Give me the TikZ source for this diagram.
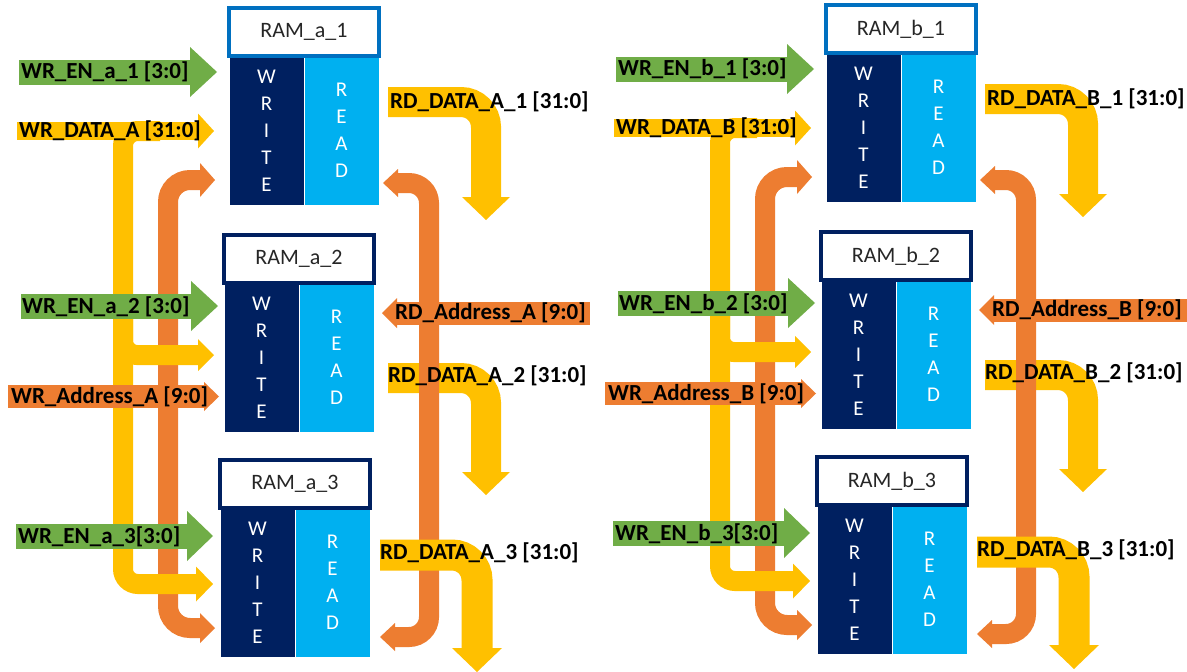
\documentclass[tikz,border=0pt]{standalone}
\usepackage{fontspec}
\setmainfont{Carlito}
\usetikzlibrary{calc}

\definecolor{grn}{HTML}{70AD47}
\definecolor{ylw}{HTML}{FFC000}
\definecolor{org}{HTML}{ED7D31}
\definecolor{navy}{HTML}{002060}
\definecolor{sky}{HTML}{00B0F0}
\definecolor{midblue}{HTML}{0070C0}

% block-arrow heads: colour, tip point, length, half width
\newcommand\bhR[4]{\fill[#1] ($(#2)+(-#3,-#4)$) -- (#2) -- ($(#2)+(-#3,#4)$) -- cycle;}
\newcommand\bhL[4]{\fill[#1] ($(#2)+(#3,-#4)$) -- (#2) -- ($(#2)+(#3,#4)$) -- cycle;}
\newcommand\bhD[4]{\fill[#1] ($(#2)+(-#4,-#3)$) -- (#2) -- ($(#2)+(#4,-#3)$) -- cycle;}

% one RAM block: name, left x, top y, title, title border colour
\newcommand\rambox[5]{%
  \node[wcol, anchor=north west] (#1w) at (#2,#3+48) {W\\R\\I\\T\\E};
  \node[rcol, anchor=north west] (#1r) at (#2+75,#3+48) {R\\E\\A\\D};
  \node[titlebox, draw=#5, anchor=north west] (#1t) at (#2,#3) {#4};
}

% one memory bank: lower-case letter, upper-case letter
\newcommand\rambank[2]{%
  % write address distribution
  \draw[org, band, rounded corners=22pt] (201,180) -- (168,180) -- (168,628) -- (201,628);
  \bhR{org}{215,180}{15}{17}
  \bhR{org}{215,628}{15}{15}
  % write data distribution
  \draw[ylw, band, rounded corners=15pt] (160,131) -- (123,131) -- (123,584) -- (197,584);
  \bhR{ylw}{213,584}{17}{17.5}
  \draw[ylw, band, rounded corners=14pt] (123,300) -- (123,355) -- (199,355);
  \bhR{ylw}{214,355}{16}{16}
  % write address input
  \fill[org] (8,385) rectangle (205.5,408);
  \bhR{org}{219,396.5}{15}{14.5}
  % write data input
  \fill[ylw] (17,122) rectangle (199,140);
  \bhR{ylw}{214,131}{16}{17.5}
  % write enables
  \fill[grn] (19,59.5) rectangle (191,84.5);
  \bhR{grn}{217,72}{27}{25}
  \fill[grn] (21,294) rectangle (192,319);
  \bhR{grn}{218,306}{27}{25}
  \fill[grn] (16,524) rectangle (188,549);
  \bhR{grn}{213,536}{26}{25}
  % read data outputs 1 and 2
  \draw[ylw, line width=30pt, rounded corners=25pt] (388,102) -- (486,102) -- (486,198);
  \bhD{ylw}{486,220}{23}{24}
  \draw[ylw, line width=30pt, rounded corners=25pt] (388,378) -- (486,378) -- (486,473);
  \bhD{ylw}{486,495}{23}{24}
  % read address distribution
  \draw[org, band, rounded corners=20pt] (397,183) -- (429,183) -- (429,637) -- (394,637);
  \bhL{org}{383,183}{15}{14}
  \bhL{org}{380,637}{15}{14}
  \fill[org] (396.5,301.5) rectangle (590,324.5);
  \bhL{org}{382,313}{15}{15}
  % read data output 3
  \draw[ylw, line width=31pt, rounded corners=25pt] (380,555) -- (477,555) -- (477,649);
  \bhD{ylw}{477,672}{24}{25}
  % RAM blocks
  \rambox{#1ram1}{229}{8}{RAM\_#1\_1}{midblue}
  \rambox{#1ram2}{224}{235}{RAM\_#1\_2}{navy}
  \rambox{#1ram3}{220}{460}{RAM\_#1\_3}{navy}
  % signal names
  \node[lbl] (#1en1) at (21,72) {WR\_EN\_#1\_1 [3:0]};
  \node[lbl] (#1wd) at (19,131) {WR\_DATA\_#2 [31:0]};
  \node[lbl] (#1en2) at (22,307) {WR\_EN\_#1\_2 [3:0]};
  \node[lbl] (#1wa) at (11,396.5) {WR\_Address\_#2 [9:0]};
  \node[lbl] (#1en3) at (18,536.5) {WR\_EN\_#1\_3[3:0]};
  \node[lbl] (#1rd1) at (390,102) {RD\_DATA\_#2\_1 [31:0]};
  \node[lbl] (#1ra) at (395,313) {RD\_Address\_#2 [9:0]};
  \node[lbl] (#1rd2) at (388,376) {RD\_DATA\_#2\_2 [31:0]};
  \node[lbl] (#1rd3) at (380,553) {RD\_DATA\_#2\_3 [31:0]};
}

\tikzset{
  band/.style={line width=20pt},
  wcol/.style={fill=navy, draw=white, line width=0.6pt, text=white, inner sep=0pt, outer sep=0pt,
    minimum width=75pt, minimum height=149pt, align=center, font=\fontsize{21}{27}\selectfont},
  rcol/.style={wcol, fill=sky},
  titlebox/.style={fill=white, line width=3.5pt, inner sep=0pt, outer sep=0pt,
    minimum width=150pt, minimum height=48pt, text=black!85, font=\fontsize{22}{26}\selectfont},
  lbl/.style={anchor=west, inner sep=0pt, text=black, font=\fontsize{23}{27}\selectfont\bfseries},
}

\begin{document}
\begin{tikzpicture}[x=1pt, y=-1pt]
  \useasboundingbox (0,0) rectangle (1187,672);
  \fill[white] (0,0) rectangle (1187,672);
  \begin{scope}
    \rambank{a}{A}
  \end{scope}
  \begin{scope}[shift={(597,-3)}]
    \rambank{b}{B}
  \end{scope}
\end{tikzpicture}
\end{document}
